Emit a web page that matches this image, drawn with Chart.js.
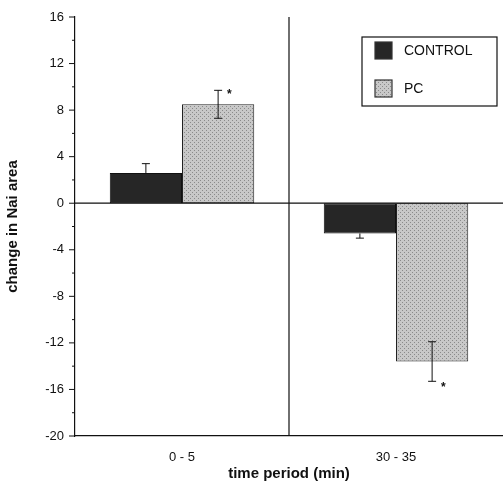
<!DOCTYPE html>
<html><head><script src="https://cdn.jsdelivr.net/npm/chart.js@4"></script>
<style>body{margin:0;background:#fff}#w{width:503px;height:487px}</style></head>
<body><div id="w"><canvas id="c"></canvas></div>
<script>
const categories=['0 - 5','30 - 35'];
const controlVals=[2.6,-2.6];
const pcVals=[8.5,-13.6];
const controlErr=[0.8,0.4];
const pcErr=[1.2,1.7];
const yTicks=[16,12,8,4,0,-4,-8,-12,-16,-20];

function pattern(){
  const c=document.createElement('canvas');c.width=4;c.height=4;
  const x=c.getContext('2d');x.fillStyle='#c8c8c8';x.fillRect(0,0,4,4);
  x.fillStyle='#8a8a8a';x.fillRect(0,0,1,1);x.fillRect(2,2,1,1);
  return x.createPattern(c,'repeat');
}
const pat=pattern();
const extras={id:'extras',afterDatasetsDraw(ch){
  const ctx=ch.ctx,ys=ch.scales.y,xs=ch.scales.x,a=ch.chartArea;
  ctx.save();ctx.strokeStyle='#111';ctx.lineWidth=1.2;
  ctx.beginPath();ctx.moveTo(a.left,ys.getPixelForValue(0));ctx.lineTo(a.right,ys.getPixelForValue(0));
  const mid=(xs.getPixelForValue(0)+xs.getPixelForValue(1))/2;
  ctx.moveTo(mid,a.top);ctx.lineTo(mid,a.bottom);ctx.stroke();
  const errs=[controlErr,pcErr],vals=[controlVals,pcVals];
  ctx.lineWidth=1;ctx.font='bold 12px Arial';ctx.fillStyle='#111';
  for(let d=0;d<2;d++){const m=ch.getDatasetMeta(d);
    m.data.forEach((b,i)=>{const v=vals[d][i],e=errs[d][i];
      const y1=ys.getPixelForValue(v>0?v+e:v-e),y0=ys.getPixelForValue(d==1?(v>0?v-e:v+e):v);
      ctx.beginPath();ctx.moveTo(b.x,y0);ctx.lineTo(b.x,y1);
      ctx.moveTo(b.x-4,y1);ctx.lineTo(b.x+4,y1);
      if(d==1){ctx.moveTo(b.x-4,y0);ctx.lineTo(b.x+4,y0);}
      ctx.stroke();
      if(d==1){ctx.fillText('*',b.x+9,v>0?y1+8:y1+10);}
    });}
  ctx.lineWidth=1.2;ctx.strokeRect(362,37,135,69);
  const labs=ch.data.datasets;
  [50,88].forEach((yy,k)=>{
    ctx.fillStyle=labs[k].backgroundColor;ctx.fillRect(375,yy-8,17,17);
    ctx.strokeStyle='#333';ctx.strokeRect(375,yy-8,17,17);
    ctx.fillStyle='#111';ctx.font='14px Arial';ctx.textBaseline='middle';ctx.fillText(labs[k].label,404,yy+1);
  });
  ctx.restore();
}};
new Chart(document.getElementById('c'),{type:'bar',
 data:{labels:categories,datasets:[
  {label:'CONTROL',data:controlVals,backgroundColor:'#262626',borderColor:'#111',borderWidth:1,borderSkipped:false},
  {label:'PC',data:pcVals,backgroundColor:pat,borderColor:'#222',borderWidth:1,borderSkipped:false}]},
 options:{responsive:true,maintainAspectRatio:false,animation:false,
  layout:{padding:{top:17,right:-4}},
  plugins:{legend:{display:false},tooltip:{enabled:false}},
  datasets:{bar:{categoryPercentage:0.675,barPercentage:1}},
  scales:{
   x:{grid:{display:false},border:{color:'#111',width:1.2},
     ticks:{color:'#111',font:{size:13,family:'Arial'},padding:6},
     title:{display:true,text:'time period (min)',color:'#111',font:{size:15,weight:'bold',family:'Arial'},padding:{top:8}},
     afterFit(s){s.height=51;}},
   y:{min:-20,max:16,afterBuildTicks(s){s.ticks=yTicks.map(v=>({value:v}));},
     grid:{display:false},border:{color:'#111',width:1.2},
     ticks:{color:'#111',font:{size:13,family:'Arial'}},
     title:{display:true,text:'change in Nai area',color:'#111',font:{size:15,weight:'bold',family:'Arial'}},
     afterFit(s){s.width=75;}}
  }},
 plugins:[extras,{id:'minor',afterDraw(ch){const ctx=ch.ctx,ys=ch.scales.y,a=ch.chartArea;ctx.save();ctx.strokeStyle='#111';
   for(let v=-20;v<=16;v+=2){const y=ys.getPixelForValue(v);ctx.beginPath();ctx.moveTo(a.left,y);ctx.lineTo(a.left-(v%4==0?6:3),y);ctx.stroke();}
   ctx.restore();}}]
});
</script></body></html>
